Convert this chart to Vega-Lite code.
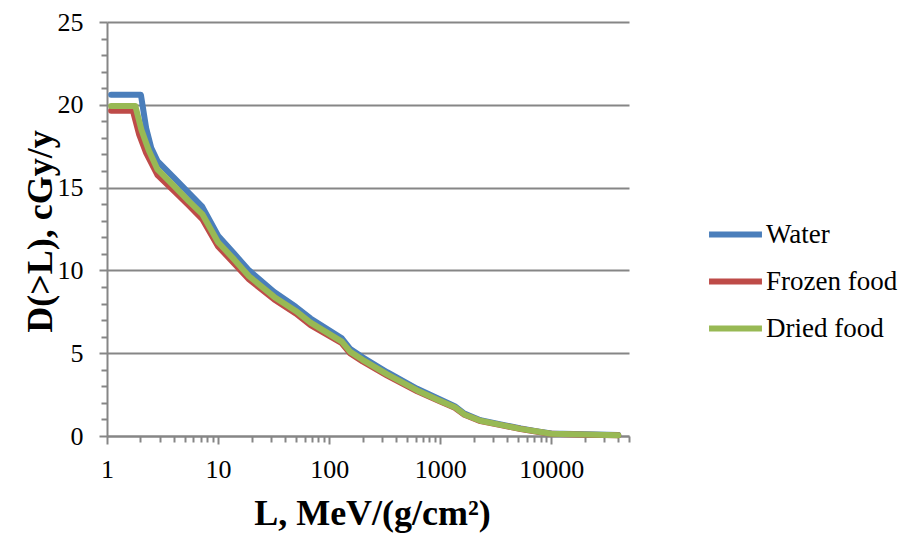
{
  "$schema": "https://vega.github.io/schema/vega-lite/v6.json",
  "width": 522,
  "height": 414,
  "autosize": "none",
  "padding": {"left": 107, "top": 22, "right": 274, "bottom": 100},
  "background": "white",
  "config": {"view": {"stroke": null}, "font": "Liberation Serif"},
  "datasets": {
    "curves": [
      {"L": 1.09, "D": 20.6, "material": "Water"},
      {"L": 2.02, "D": 20.6, "material": "Water"},
      {"L": 2.25, "D": 18.6, "material": "Water"},
      {"L": 2.5, "D": 17.4, "material": "Water"},
      {"L": 2.85, "D": 16.6, "material": "Water"},
      {"L": 4.0, "D": 15.6, "material": "Water"},
      {"L": 5.5, "D": 14.65, "material": "Water"},
      {"L": 7.2, "D": 13.85, "material": "Water"},
      {"L": 10, "D": 12.1, "material": "Water"},
      {"L": 14, "D": 11.0, "material": "Water"},
      {"L": 19, "D": 10.0, "material": "Water"},
      {"L": 32, "D": 8.7, "material": "Water"},
      {"L": 50, "D": 7.8, "material": "Water"},
      {"L": 68, "D": 7.1, "material": "Water"},
      {"L": 130, "D": 5.9, "material": "Water"},
      {"L": 155, "D": 5.25, "material": "Water"},
      {"L": 200, "D": 4.75, "material": "Water"},
      {"L": 333, "D": 3.85, "material": "Water"},
      {"L": 620, "D": 2.85, "material": "Water"},
      {"L": 1000, "D": 2.2, "material": "Water"},
      {"L": 1350, "D": 1.8, "material": "Water"},
      {"L": 1650, "D": 1.35, "material": "Water"},
      {"L": 2300, "D": 0.95, "material": "Water"},
      {"L": 3500, "D": 0.7, "material": "Water"},
      {"L": 5300, "D": 0.45, "material": "Water"},
      {"L": 7500, "D": 0.28, "material": "Water"},
      {"L": 10000, "D": 0.15, "material": "Water"},
      {"L": 20000, "D": 0.1, "material": "Water"},
      {"L": 40000, "D": 0.06, "material": "Water"},

      {"L": 1.09, "D": 19.64, "material": "Frozen food"},
      {"L": 1.71, "D": 19.64, "material": "Frozen food"},
      {"L": 1.95, "D": 18.2, "material": "Frozen food"},
      {"L": 2.25, "D": 17.1, "material": "Frozen food"},
      {"L": 2.85, "D": 15.75, "material": "Frozen food"},
      {"L": 4.0, "D": 14.8, "material": "Frozen food"},
      {"L": 5.5, "D": 13.9, "material": "Frozen food"},
      {"L": 7.2, "D": 13.1, "material": "Frozen food"},
      {"L": 10, "D": 11.45, "material": "Frozen food"},
      {"L": 14, "D": 10.4, "material": "Frozen food"},
      {"L": 19, "D": 9.45, "material": "Frozen food"},
      {"L": 32, "D": 8.25, "material": "Frozen food"},
      {"L": 50, "D": 7.4, "material": "Frozen food"},
      {"L": 68, "D": 6.7, "material": "Frozen food"},
      {"L": 130, "D": 5.6, "material": "Frozen food"},
      {"L": 155, "D": 4.98, "material": "Frozen food"},
      {"L": 200, "D": 4.5, "material": "Frozen food"},
      {"L": 333, "D": 3.65, "material": "Frozen food"},
      {"L": 620, "D": 2.7, "material": "Frozen food"},
      {"L": 1000, "D": 2.08, "material": "Frozen food"},
      {"L": 1350, "D": 1.7, "material": "Frozen food"},
      {"L": 1650, "D": 1.28, "material": "Frozen food"},
      {"L": 2300, "D": 0.9, "material": "Frozen food"},
      {"L": 3500, "D": 0.66, "material": "Frozen food"},
      {"L": 5300, "D": 0.42, "material": "Frozen food"},
      {"L": 7500, "D": 0.26, "material": "Frozen food"},
      {"L": 10000, "D": 0.13, "material": "Frozen food"},
      {"L": 20000, "D": 0.08, "material": "Frozen food"},
      {"L": 40000, "D": 0.05, "material": "Frozen food"},

      {"L": 1.09, "D": 19.93, "material": "Dried food"},
      {"L": 1.8, "D": 19.93, "material": "Dried food"},
      {"L": 2.04, "D": 18.5, "material": "Dried food"},
      {"L": 2.37, "D": 17.27, "material": "Dried food"},
      {"L": 2.85, "D": 16.1, "material": "Dried food"},
      {"L": 4.0, "D": 15.1, "material": "Dried food"},
      {"L": 5.5, "D": 14.15, "material": "Dried food"},
      {"L": 7.2, "D": 13.4, "material": "Dried food"},
      {"L": 10, "D": 11.7, "material": "Dried food"},
      {"L": 14, "D": 10.65, "material": "Dried food"},
      {"L": 19, "D": 9.65, "material": "Dried food"},
      {"L": 32, "D": 8.4, "material": "Dried food"},
      {"L": 50, "D": 7.55, "material": "Dried food"},
      {"L": 68, "D": 6.85, "material": "Dried food"},
      {"L": 130, "D": 5.7, "material": "Dried food"},
      {"L": 155, "D": 5.08, "material": "Dried food"},
      {"L": 200, "D": 4.6, "material": "Dried food"},
      {"L": 333, "D": 3.72, "material": "Dried food"},
      {"L": 620, "D": 2.75, "material": "Dried food"},
      {"L": 1000, "D": 2.12, "material": "Dried food"},
      {"L": 1350, "D": 1.74, "material": "Dried food"},
      {"L": 1650, "D": 1.3, "material": "Dried food"},
      {"L": 2300, "D": 0.92, "material": "Dried food"},
      {"L": 3500, "D": 0.67, "material": "Dried food"},
      {"L": 5300, "D": 0.43, "material": "Dried food"},
      {"L": 7500, "D": 0.27, "material": "Dried food"},
      {"L": 10000, "D": 0.14, "material": "Dried food"},
      {"L": 20000, "D": 0.09, "material": "Dried food"},
      {"L": 40000, "D": 0.05, "material": "Dried food"}
    ]
  },
  "data": {"name": "curves"},
  "mark": {"type": "line", "strokeWidth": 6, "strokeCap": "round", "strokeJoin": "round"},
  "encoding": {
    "x": {
      "field": "L",
      "type": "quantitative",
      "scale": {"type": "log", "domain": [1, 50000], "nice": false},
      "axis": {
        "values": [1,2,3,4,5,6,7,8,9,10,20,30,40,50,60,70,80,90,100,200,300,400,500,600,700,800,900,1000,2000,3000,4000,5000,6000,7000,8000,9000,10000,20000,30000,40000,50000],
        "labelExpr": "indexof([1,10,100,1000,10000], datum.value) >= 0 ? format(datum.value, 'd') : ''",
        "grid": false,
        "domainColor": "#868686",
        "domainWidth": 2,
        "tickColor": "#868686",
        "tickWidth": 2,
        "tickSize": {"condition": {"test": "indexof([1,10,100,1000,10000], datum.value) >= 0", "value": 8}, "value": 6},
        "labelFont": "Liberation Serif",
        "labelFontSize": 26,
        "labelColor": "black",
        "labelPadding": 12,
        "labelFlush": false,
        "labelOverlap": false,
        "title": "L, MeV/(g/cm²)",
        "titleFont": "Liberation Serif",
        "titleFontSize": 36,
        "titleFontWeight": "bold",
        "titleColor": "black",
        "titleX": 265,
        "titleY": 88,
        "titleBaseline": "alphabetic"
      }
    },
    "y": {
      "field": "D",
      "type": "quantitative",
      "scale": {"domain": [0, 25], "nice": false},
      "axis": {
        "values": [0,1,2,3,4,5,6,7,8,9,10,11,12,13,14,15,16,17,18,19,20,21,22,23,24,25],
        "labelExpr": "datum.value % 5 === 0 ? datum.label : ''",
        "grid": true,
        "gridColor": "#868686",
        "gridWidth": 2,
        "gridOpacity": {"condition": {"test": "datum.value % 5 === 0", "value": 1}, "value": 0},
        "domainColor": "#868686",
        "domainWidth": 2,
        "tickColor": "#868686",
        "tickWidth": 2,
        "tickSize": {"condition": {"test": "datum.value % 5 === 0", "value": 8}, "value": 6},
        "labelFont": "Liberation Serif",
        "labelFontSize": 26,
        "labelColor": "black",
        "labelPadding": 16,
        "labelOverlap": false,
        "labelFlush": false,
        "title": "D(>L), cGy/y",
        "titleFont": "Liberation Serif",
        "titleFontSize": 36,
        "titleFontWeight": "bold",
        "titleColor": "black",
        "titleX": -56,
        "titleY": 209,
        "titleBaseline": "alphabetic"
      }
    },
    "color": {
      "field": "material",
      "type": "nominal",
      "sort": ["Water", "Frozen food", "Dried food"],
      "scale": {"domain": ["Water", "Frozen food", "Dried food"], "range": ["#4A7EBB", "#BE4B48", "#98B954"]},
      "legend": {
        "title": null,
        "orient": "none",
        "legendX": 599,
        "legendY": 183,
        "symbolType": "stroke",
        "symbolSize": 2800,
        "symbolStrokeWidth": 6,
        "labelFont": "Liberation Serif",
        "labelFontSize": 27,
        "labelColor": "black",
        "labelOffset": 1,
        "rowPadding": 4
      }
    }
  }
}
